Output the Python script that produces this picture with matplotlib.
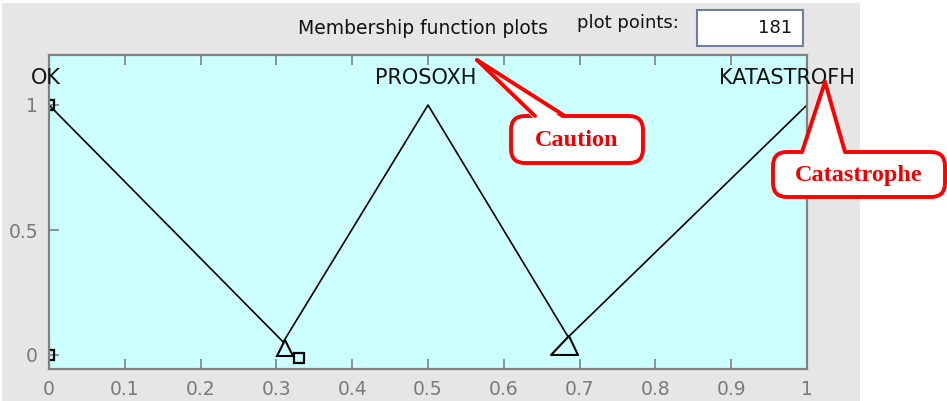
import numpy as np
import matplotlib.pyplot as plt
from matplotlib.patches import Rectangle, FancyBboxPatch, Polygon
from matplotlib.path import Path

# membership functions (as drawn in the MATLAB fuzzy editor)
mf_names   = ['OK', 'PROSOXH', 'KATASTROFH']
mf_label_x = [-0.004, 0.497, 0.973]
mf_label_y = 1.108

ok_x = [0.0, 0.309]
ok_y = [1.0, 0.052]
prosoxh_x = [0.309, 0.5, 0.685]
prosoxh_y = [0.052, 1.0, 0.072]
katastrofh_x = [0.685, 1.0]
katastrofh_y = [0.072, 1.0]

# vertex markers
square_x = [0.0, 0.0, 0.33]
square_y = [1.0, 0.0, -0.01]
tri_left  = (0.3113, 0.030)
tri_right = (0.6794, 0.042)

xticks = [0, 0.1, 0.2, 0.3, 0.4, 0.5, 0.6, 0.7, 0.8, 0.9, 1]
xticklabels = ['0', '0.1', '0.2', '0.3', '0.4', '0.5', '0.6', '0.7', '0.8', '0.9', '1']
yticks = [0, 0.5, 1]
yticklabels = ['0', '0.5', '1']

plot_points = 181

W, H = 947, 401
fig = plt.figure(figsize=(W / 100, H / 100), dpi=100, facecolor='white')
px = fig.dpi_scale_trans  # inches; 1 inch = 100 px

def P(x, y):
    # pixel (from top-left) -> inches for dpi_scale_trans
    return (x / 100, (H - y) / 100)

# grey GUI panel
fig.patches.append(Rectangle(P(2, H), 858 / 100, (H - 3) / 100, transform=px,
                             facecolor='#e6e6e6', edgecolor='none', zorder=-1))

ax = fig.add_axes([49 / W, (H - 369) / H, 758 / W, 314 / H])
ax.set_zorder(2)
ax.set_facecolor('#ccffff')
ax.set_xlim(0, 1)
ax.set_ylim(-0.056, 1.2)

ax.plot(ok_x, ok_y, color='black', lw=1.2)
ax.plot(prosoxh_x, prosoxh_y, color='black', lw=1.2)
ax.plot(katastrofh_x, katastrofh_y, color='black', lw=1.2)

ax.plot(square_x, square_y, ls='none', marker='s', ms=7.5, mfc='none',
        mec='black', mew=1.6)
ax.plot(*tri_left, ls='none', marker='^', ms=11.5, mfc='none', mec='black', mew=1.5)
right_tri = Path([(-13.5, -9.5), (13.5, -9.5), (4.5, 9.5), (-13.5, -9.5)],
                 [Path.MOVETO, Path.LINETO, Path.LINETO, Path.CLOSEPOLY])
ax.plot(*tri_right, ls='none', marker=right_tri, ms=19.4, mfc='none', mec='black', mew=1.5)

for name, lx in zip(mf_names, mf_label_x):
    ax.text(lx, mf_label_y, name, ha='center', va='center', fontsize=15,
            color='#111111', clip_on=False)

ax.set_xticks(xticks)
ax.set_xticklabels(xticklabels)
ax.set_yticks(yticks)
ax.set_yticklabels(yticklabels)
ax.tick_params(axis='x', direction='in', length=7, width=1.2, color='#808080',
               labelcolor='#7a7a7a', labelsize=13.5, pad=8, top=True)
ax.tick_params(axis='y', direction='in', length=7, width=1.2, color='#808080',
               labelcolor='#7a7a7a', labelsize=13.5, pad=8)
for s in ax.spines.values():
    s.set_color('#808080')
    s.set_linewidth(1.6)

# GUI texts
fig.text(423 / W, 1 - 28 / H, 'Membership function plots',
         ha='center', va='center', fontsize=13.5, color='#111111')
fig.text(628 / W, 1 - 23 / H, 'plot points:', ha='center', va='center',
         fontsize=13, color='#111111')
fig.patches.append(Rectangle(P(697, 46), 106 / 100, 36 / 100, transform=px,
                             facecolor='white', edgecolor='#6f7f9f', lw=1.5, zorder=1))
fig.text(792 / W, 1 - 28 / H, str(plot_points), ha='right', va='center',
         fontsize=13, color='#111111')

# red callouts
def callout(box, tip, base, label):
    x0, y0, x1, y1 = box
    bx, by = P(x0, y1)
    fig.patches.append(FancyBboxPatch((bx, by), (x1 - x0) / 100, (y1 - y0) / 100,
                                      boxstyle='round,pad=0,rounding_size=0.14',
                                      transform=px, facecolor='white',
                                      edgecolor='red', lw=2.8, zorder=5))
    (bl, br) = base
    fig.patches.append(Polygon([P(*tip), P(bl, y0 + 4), P(br, y0 + 4)], closed=True,
                               transform=px, facecolor='white', edgecolor='none',
                               zorder=6))
    for b in (bl, br):
        xs, ys = zip(P(*tip), P(b, y0))
        fig.lines.append(plt.Line2D(xs, ys, transform=px, color='red', lw=2.8,
                                    solid_capstyle='round', zorder=7))
    fig.text((x0 + x1) / 2 / W, 1 - ((y0 + y1) / 2 + 1) / H, label, ha='center',
             va='center', fontsize=17.5, fontweight='bold', color='#f00000',
             family='Liberation Serif', zorder=8)

callout((511, 116, 643, 163), (477, 60), (535, 565), 'Caution')
callout((773, 152, 945, 197), (825, 82), (802, 845), 'Catastrophe')

fig.savefig('out.png', dpi=100, facecolor='white')
